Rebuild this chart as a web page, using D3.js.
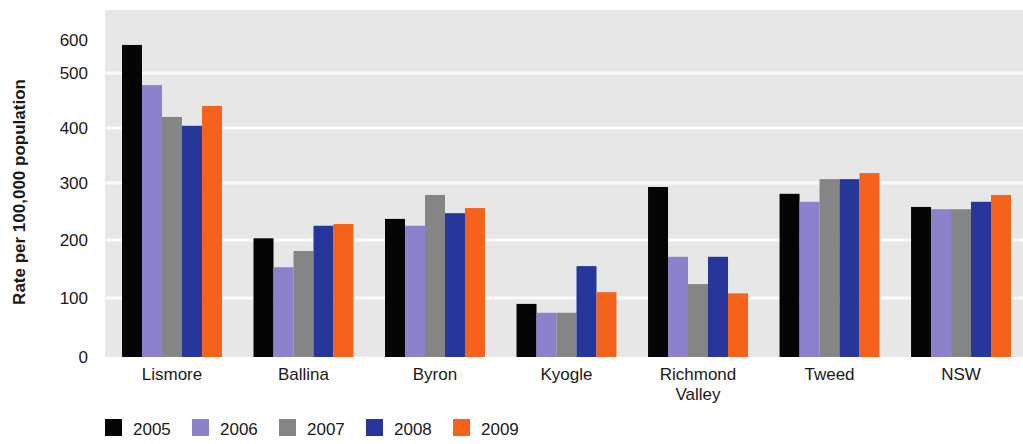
<!DOCTYPE html>
<html>
<head>
<meta charset="utf-8">
<script src="https://cdn.jsdelivr.net/npm/d3@7"></script>
<style>
  html, body { margin: 0; padding: 0; background: #ffffff; }
  svg { display: block; font-family: "Liberation Sans", Arial, Helvetica, sans-serif; }
</style>
</head>
<body>
<svg id="chart" width="1023" height="444"></svg>
<script>
// ---- data ----
const categories = ["Lismore", "Ballina", "Byron", "Kyogle", "Richmond Valley", "Tweed", "NSW"];
const years = ["2005", "2006", "2007", "2008", "2009"];
const values2005 = [585, 203, 237, 90, 293, 281, 258];
const values2006 = [478, 153, 225, 75, 171, 267, 254];
const values2007 = [420, 181, 279, 75, 124, 307, 254];
const values2008 = [404, 225, 247, 155, 171, 307, 267];
const values2009 = [440, 228, 256, 110, 108, 318, 279];
const yTicks = [0, 100, 200, 300, 400, 500, 600];
const colors = ["#050505", "#8b82cc", "#858585", "#26369a", "#f4621c"];

const series = [values2005, values2006, values2007, values2008, values2009];

const svg = d3.select("#chart");

const plotLeft = 105, plotRight = 1023, plotTop = 10, plotBottom = 357;

// The reference axis is slightly compressed near the top; map each tick to its drawn position
const y = d3.scaleLinear()
  .domain(yTicks)
  .range([357, 298, 240, 183, 128, 73, 40]);

const x0 = d3.scaleBand().domain(categories).range([122, 1011]).paddingInner(0.24).paddingOuter(0);
const x1 = d3.scaleBand().domain(years).range([0, x0.bandwidth()]).padding(0);

svg.append("rect")
  .attr("x", plotLeft).attr("y", plotTop)
  .attr("width", plotRight - plotLeft).attr("height", plotBottom - plotTop)
  .attr("fill", "#e7e7e7");

// gridlines
svg.append("g").selectAll("line")
  .data(yTicks.filter(t => t > 0 && t < 600))
  .join("line")
  .attr("x1", plotLeft).attr("x2", plotRight)
  .attr("y1", d => y(d)).attr("y2", d => y(d))
  .attr("stroke", "#fbfbfb").attr("stroke-width", 3);

// y axis labels
const yAxis = d3.axisLeft(y).tickValues(yTicks).tickSize(0).tickPadding(0);
const yg = svg.append("g").attr("transform", "translate(88,0)").call(yAxis);
yg.select(".domain").remove();
yg.selectAll("text")
  .attr("font-size", 17)
  .attr("font-family", "'Liberation Sans', Arial, sans-serif")
  .attr("fill", "#1a1a1a");

// y title
svg.append("text")
  .attr("transform", "translate(25,192) rotate(-90)")
  .attr("text-anchor", "middle")
  .attr("font-size", 17)
  .attr("font-weight", "bold")
  .attr("fill", "#1a1a1a")
  .text("Rate per 100,000 population");

// bars
const groups = svg.append("g").selectAll("g")
  .data(categories)
  .join("g")
  .attr("transform", d => `translate(${x0(d)},0)`);

groups.selectAll("rect")
  .data((c, i) => years.map((yr, j) => ({ yr, j, v: series[j][i] })))
  .join("rect")
  .attr("x", d => x1(d.yr))
  .attr("width", x1.bandwidth())
  .attr("y", d => y(d.v))
  .attr("height", d => y(0) - y(d.v))
  .attr("fill", d => colors[d.j]);

// x labels
const xl = svg.append("g").selectAll("text")
  .data(categories)
  .join("text")
  .attr("x", d => x0(d) + x0.bandwidth() / 2)
  .attr("y", 380)
  .attr("text-anchor", "middle")
  .attr("font-size", 17)
  .attr("fill", "#1a1a1a");
xl.each(function(d) {
  const words = d === "Richmond Valley" ? ["Richmond", "Valley"] : [d];
  const t = d3.select(this);
  words.forEach((w, i) => {
    t.append("tspan")
      .attr("x", x0(d) + x0.bandwidth() / 2)
      .attr("dy", i === 0 ? 0 : 20)
      .text(w);
  });
});

// legend
const legend = svg.append("g").selectAll("g")
  .data(years)
  .join("g")
  .attr("transform", (d, i) => `translate(${105 + i * 87},419)`);
legend.append("rect")
  .attr("width", 17).attr("height", 17)
  .attr("fill", (d, i) => colors[i]);
legend.append("text")
  .attr("x", 28).attr("y", 16)
  .attr("font-size", 17)
  .attr("fill", "#1a1a1a")
  .text(d => d);
</script>
</body>
</html>
